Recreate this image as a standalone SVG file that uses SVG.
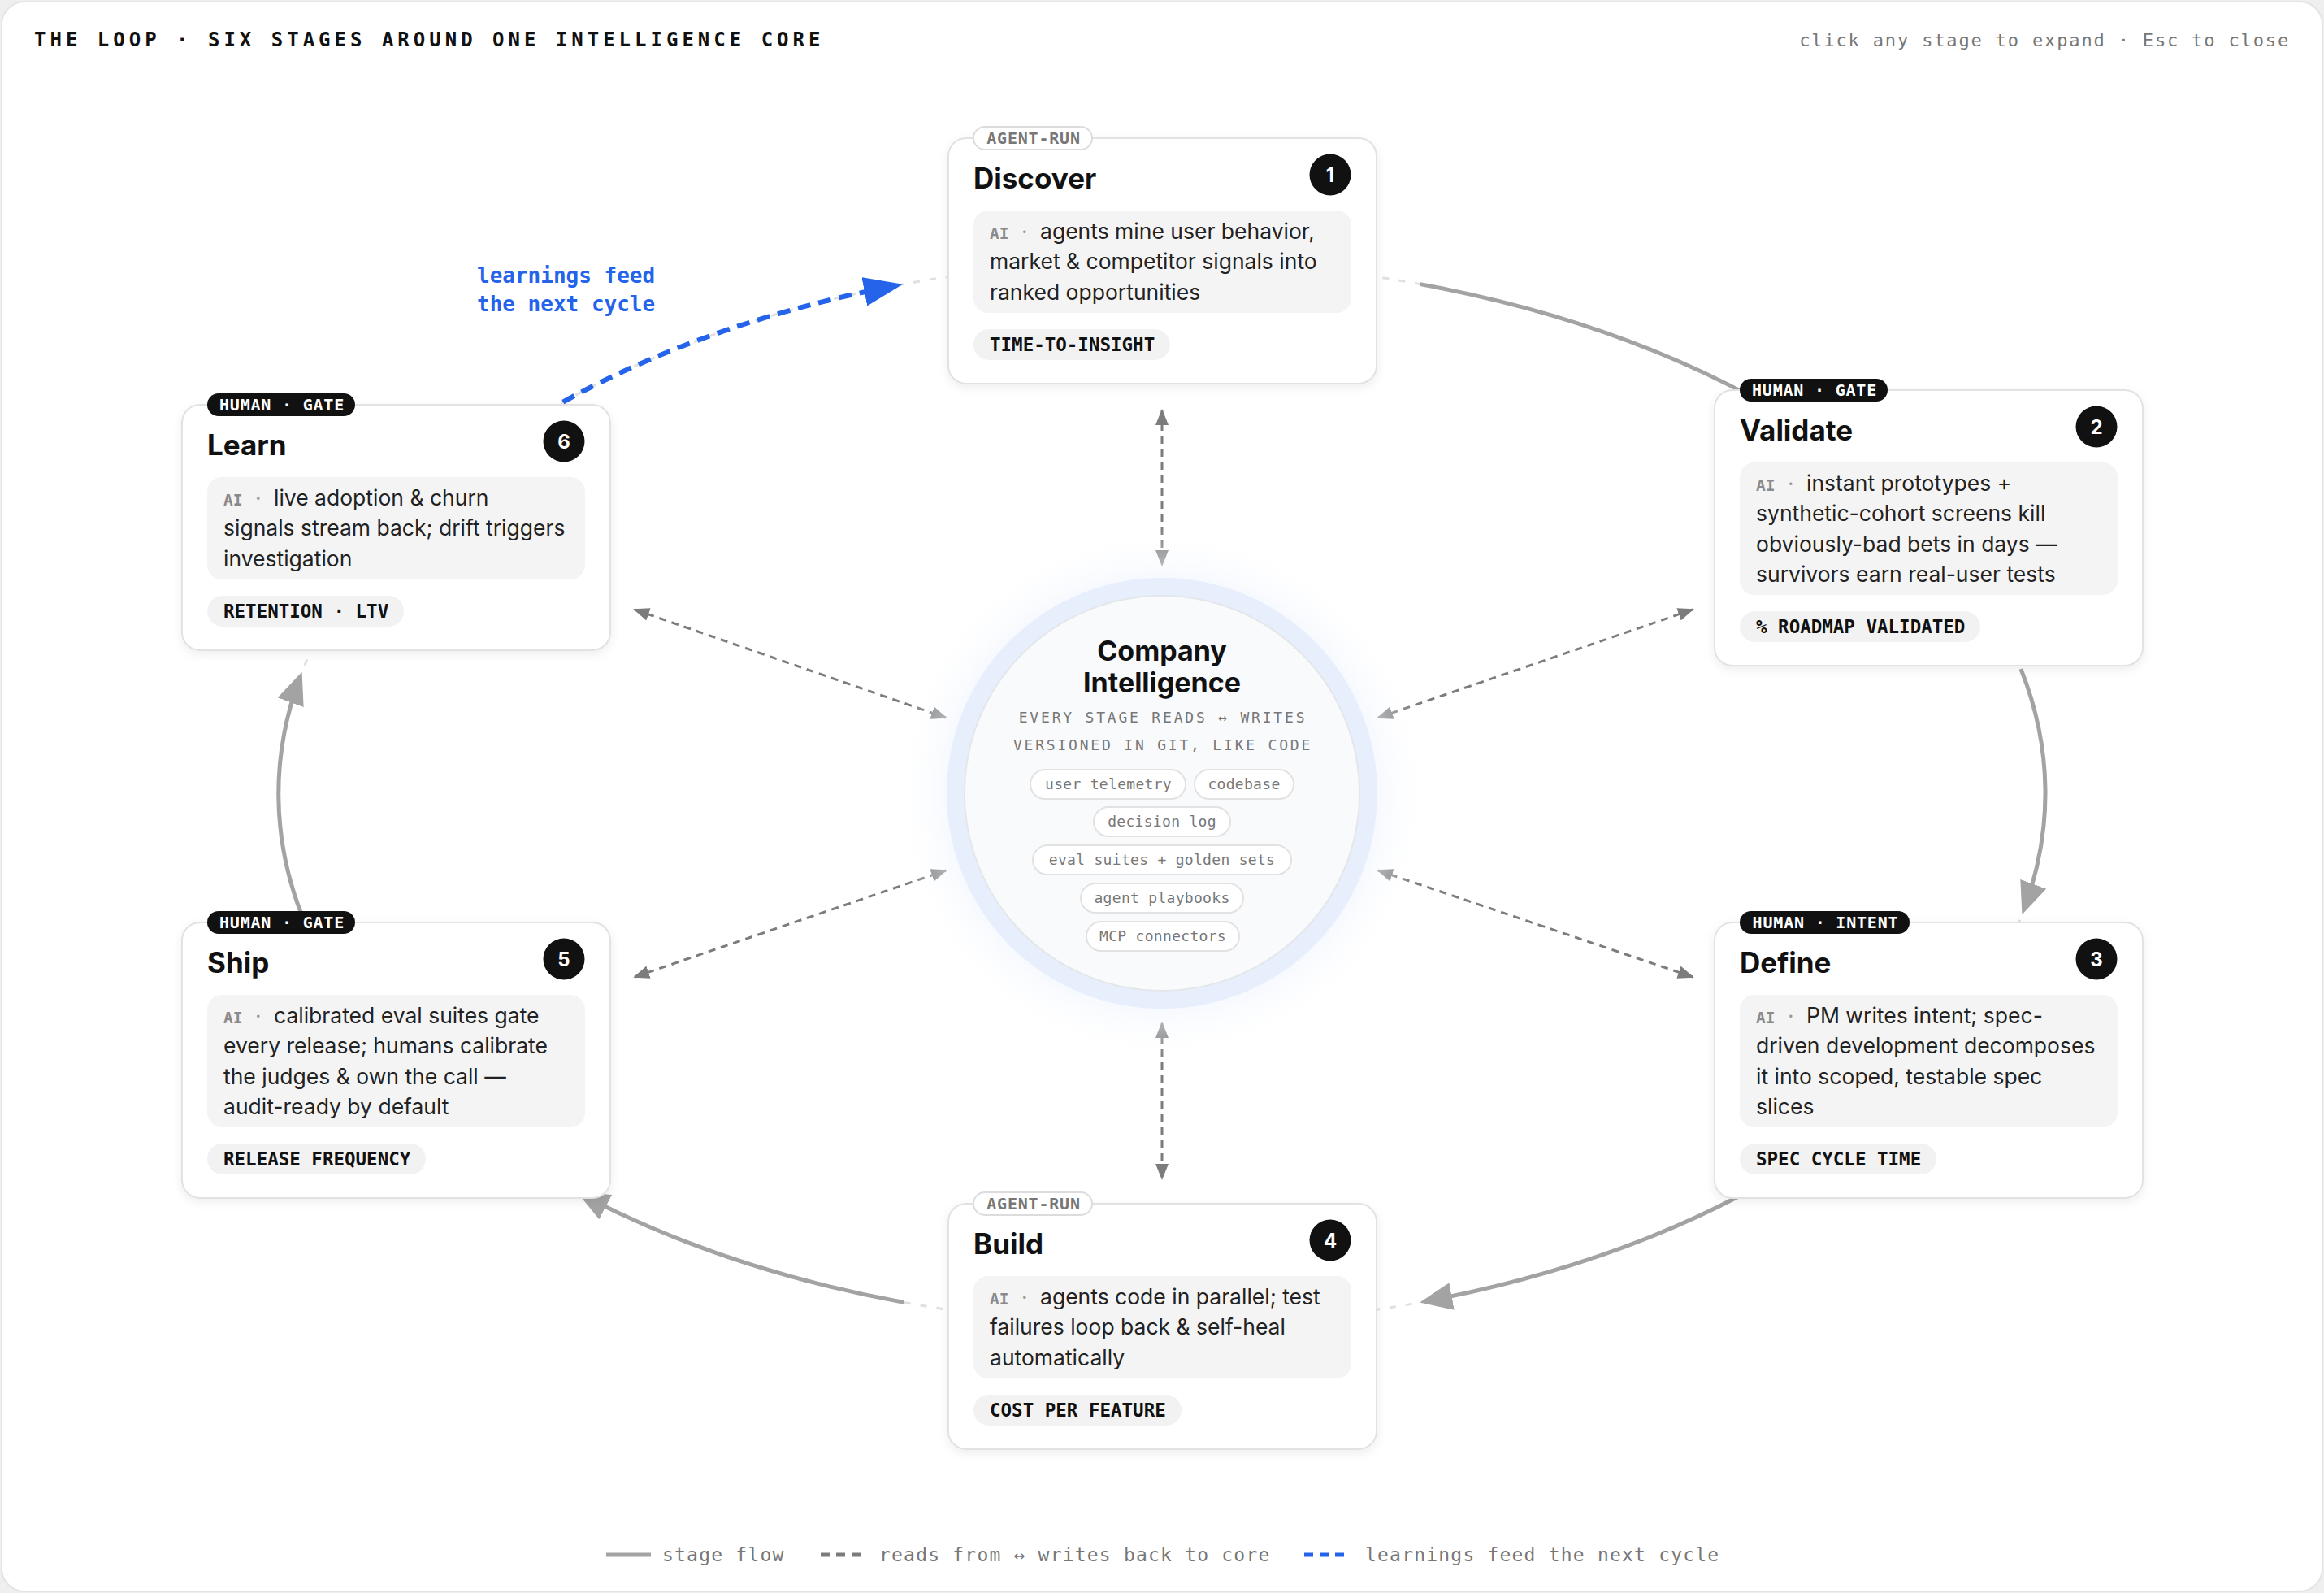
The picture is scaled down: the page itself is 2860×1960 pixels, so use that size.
<svg xmlns="http://www.w3.org/2000/svg" width="2860" height="1960" viewBox="0 0 2860 1960">
<defs>
<style>
.mono{font-family:"DejaVu Sans Mono","Liberation Mono",monospace}
.sans{font-family:Inter,"Liberation Sans",sans-serif}
.card{fill:#fff;stroke:#e2e2e2;stroke-width:2}
.box{fill:#f4f4f4}
.ttl{font-family:Inter,"Liberation Sans",sans-serif;font-weight:700;font-size:35px;fill:#111}
.body{font-family:Inter,"Liberation Sans",sans-serif;font-size:26.5px;fill:#222}
.ai{font-family:"DejaVu Sans Mono","Liberation Mono",monospace;font-weight:700;font-size:19.5px;fill:#8a8a8a}
.dot{font-family:Inter,"Liberation Sans",sans-serif;font-size:26px;fill:#999}
.mpill{fill:#f2f2f2}
.met{font-family:"DejaVu Sans Mono","Liberation Mono",monospace;font-weight:700;font-size:22.5px;fill:#111}
.tagd{fill:#111}
.tagdt{font-family:"DejaVu Sans Mono","Liberation Mono",monospace;font-weight:700;font-size:20px;letter-spacing:0.8px;fill:#fff}
.tagl{fill:#fff;stroke:#dcdcdc;stroke-width:2}
.taglt{font-family:"DejaVu Sans Mono","Liberation Mono",monospace;font-weight:700;font-size:20px;letter-spacing:0.8px;fill:#777}
.badge{fill:#111}
.badget{font-family:Inter,"Liberation Sans",sans-serif;font-weight:700;font-size:24px;fill:#fff}
.flow{fill:none;stroke:#a3a3a3;stroke-width:5}
.core{fill:none;stroke:#7c7c7c;stroke-width:3;stroke-dasharray:9 7}
.learn{fill:none;stroke:#2563eb;stroke-width:6;stroke-dasharray:16 10}
.track{fill:none;stroke:#e0e0e0;stroke-width:3;stroke-dasharray:8 12}
.chip{fill:#fff;stroke:#e2e2e2;stroke-width:2}
.chipt{font-family:"DejaVu Sans Mono","Liberation Mono",monospace;font-size:18px;letter-spacing:0.3px;fill:#777}
.leg{font-family:"DejaVu Sans Mono","Liberation Mono",monospace;font-size:23px;letter-spacing:1.2px;fill:#777}
</style>
<filter id="sh" x="-10%" y="-10%" width="120%" height="130%">
<feDropShadow dx="0" dy="4" stdDeviation="6" flood-color="#000" flood-opacity="0.07"/>
</filter>
<radialGradient id="glow" cx="0.5" cy="0.5" r="0.5">
<stop offset="0.7" stop-color="#e9f0fc" stop-opacity="0.9"/>
<stop offset="1" stop-color="#ffffff" stop-opacity="0"/>
</radialGradient>
<marker id="af" markerUnits="userSpaceOnUse" markerWidth="40" markerHeight="34" viewBox="0 0 40 34" refX="32" refY="17" orient="auto">
<path d="M0,0 L40,17 L0,34 z" fill="#a3a3a3"/>
</marker>
<marker id="ab" markerUnits="userSpaceOnUse" markerWidth="48" markerHeight="36" viewBox="0 0 48 36" refX="40" refY="18" orient="auto">
<path d="M0,0 L48,18 L0,36 z" fill="#2563eb"/>
</marker>
<marker id="ac" markerUnits="userSpaceOnUse" markerWidth="20" markerHeight="16" viewBox="0 0 20 16" refX="18" refY="8" orient="auto-start-reverse">
<path d="M0,0 L20,8 L0,16 z" fill="#7c7c7c"/>
</marker>
</defs>

<rect x="0" y="0" width="2860" height="1960" fill="#efefef"/>
<rect x="2" y="2" width="2856" height="1956" rx="28" fill="#fff" stroke="#e4e4e4" stroke-width="2"/>

<text class="mono" x="42" y="57" font-size="24" font-weight="700" letter-spacing="5" fill="#111">THE LOOP · SIX STAGES AROUND ONE INTELLIGENCE CORE</text>
<text class="mono" x="2818" y="57" font-size="22" letter-spacing="1.85" fill="#777" text-anchor="end">click any stage to expand · Esc to close</text>

<g id="connectors">
<ellipse class="track" cx="1430" cy="976" rx="1087" ry="655"/>
<path class="flow" d="M1747.8,349.6 A1087,655 0 0 1 2157.4,489.2"/>
<path class="flow" marker-end="url(#af)" d="M2487,823.1 A1087,655 0 0 1 2491.2,1117.8"/>
<path class="flow" marker-end="url(#af)" d="M2143.1,1470.3 A1087,655 0 0 1 1755.1,1601"/>
<path class="flow" marker-end="url(#af)" d="M1112.2,1602.4 A1087,655 0 0 1 716.9,1470.3"/>
<path class="flow" marker-end="url(#af)" d="M371.4,1126 A1087,655 0 0 1 368.8,834.2"/>
<path class="learn" marker-end="url(#ab)" d="M648.1,521 A1087,655 0 0 1 1103.1,351.3"/>
<line class="core" x1="1430" y1="505" x2="1430" y2="695" marker-start="url(#ac)" marker-end="url(#ac)"/>
<line class="core" x1="1430" y1="1259" x2="1430" y2="1450" marker-start="url(#ac)" marker-end="url(#ac)"/>
<line class="core" x1="781" y1="750" x2="1164" y2="883" marker-start="url(#ac)" marker-end="url(#ac)"/>
<line class="core" x1="2083" y1="750" x2="1696" y2="883" marker-start="url(#ac)" marker-end="url(#ac)"/>
<line class="core" x1="781" y1="1202" x2="1164" y2="1071" marker-start="url(#ac)" marker-end="url(#ac)"/>
<line class="core" x1="2083" y1="1202" x2="1696" y2="1071" marker-start="url(#ac)" marker-end="url(#ac)"/>
<text class="mono" x="587" y="348" font-size="26" font-weight="700" fill="#2563eb">learnings feed</text>
<text class="mono" x="587" y="383" font-size="26" font-weight="700" fill="#2563eb">the next cycle</text>
</g>

<g id="core">
<circle cx="1430" cy="976" r="330" fill="url(#glow)"/>
<circle cx="1430" cy="976" r="254" fill="none" stroke="#e8effc" stroke-width="22"/>
<circle cx="1430" cy="976" r="243" fill="#f9fafc" stroke="#e4e6ea" stroke-width="2"/>
<text class="sans" x="1430" y="813" font-size="34" font-weight="700" fill="#111" text-anchor="middle">Company</text>
<text class="sans" x="1430" y="852" font-size="34" font-weight="700" fill="#111" text-anchor="middle">Intelligence</text>
<text class="mono" x="1431" y="889" font-size="18" letter-spacing="2.8" fill="#777" text-anchor="middle">EVERY STAGE READS ↔ WRITES</text>
<text class="mono" x="1431" y="923" font-size="18" letter-spacing="2.8" fill="#777" text-anchor="middle">VERSIONED IN GIT, LIKE CODE</text>
<rect class="chip" x="1268" y="947" width="191" height="36" rx="18"/>
<text class="chipt" x="1364" y="971" text-anchor="middle">user telemetry</text>
<rect class="chip" x="1470" y="947" width="122" height="36" rx="18"/>
<text class="chipt" x="1531" y="971" text-anchor="middle">codebase</text>
<rect class="chip" x="1346" y="993" width="168" height="36" rx="18"/>
<text class="chipt" x="1430" y="1017" text-anchor="middle">decision log</text>
<rect class="chip" x="1271" y="1040" width="318" height="36" rx="18"/>
<text class="chipt" x="1430" y="1064" text-anchor="middle">eval suites + golden sets</text>
<rect class="chip" x="1330" y="1087" width="200" height="36" rx="18"/>
<text class="chipt" x="1430" y="1111" text-anchor="middle">agent playbooks</text>
<rect class="chip" x="1337" y="1134" width="188" height="36" rx="18"/>
<text class="chipt" x="1431" y="1158" text-anchor="middle">MCP connectors</text>
</g>

<g id="discover">
<rect class="card" x="1167" y="170" width="527" height="302" rx="22" filter="url(#sh)"/>
<rect class="tagl" x="1198" y="156" width="146" height="28" rx="14"/>
<text class="taglt" x="1272" y="177" text-anchor="middle">AGENT-RUN</text>
<text class="ttl" x="1198" y="232">Discover</text>
<circle class="badge" cx="1637" cy="215" r="25.5"/>
<text class="badget" x="1637" y="223.5" text-anchor="middle">1</text>
<rect class="box" x="1198" y="259" width="465" height="126" rx="18"/>
<text class="ai" x="1218" y="294">AI</text><text class="dot" x="1257" y="294">·</text>
<text class="body" x="1280" y="294">agents mine user behavior,</text>
<text class="body" x="1218" y="331.4">market &amp; competitor signals into</text>
<text class="body" x="1218" y="368.8">ranked opportunities</text>
<rect class="mpill" x="1198" y="405" width="242" height="38" rx="19"/>
<text class="met" x="1218" y="432">TIME-TO-INSIGHT</text>
</g>

<g id="validate">
<rect class="card" x="2110" y="480" width="527" height="339" rx="22" filter="url(#sh)"/>
<rect class="tagd" x="2141" y="466" width="182" height="28" rx="14"/>
<text class="tagdt" x="2233" y="487" text-anchor="middle">HUMAN · GATE</text>
<text class="ttl" x="2141" y="542">Validate</text>
<circle class="badge" cx="2580" cy="525" r="25.5"/>
<text class="badget" x="2580" y="533.5" text-anchor="middle">2</text>
<rect class="box" x="2141" y="569" width="465" height="163" rx="18"/>
<text class="ai" x="2161" y="604">AI</text><text class="dot" x="2200" y="604">·</text>
<text class="body" x="2223" y="604">instant prototypes +</text>
<text class="body" x="2161" y="641.4">synthetic-cohort screens kill</text>
<text class="body" x="2161" y="678.8">obviously-bad bets in days —</text>
<text class="body" x="2161" y="716.2">survivors earn real-user tests</text>
<rect class="mpill" x="2141" y="752" width="296" height="38" rx="19"/>
<text class="met" x="2161" y="779">% ROADMAP VALIDATED</text>
</g>

<g id="define">
<rect class="card" x="2110" y="1135" width="527" height="339" rx="22" filter="url(#sh)"/>
<rect class="tagd" x="2141" y="1121" width="209" height="28" rx="14"/>
<text class="tagdt" x="2246.5" y="1142" text-anchor="middle">HUMAN · INTENT</text>
<text class="ttl" x="2141" y="1197">Define</text>
<circle class="badge" cx="2580" cy="1180" r="25.5"/>
<text class="badget" x="2580" y="1188.5" text-anchor="middle">3</text>
<rect class="box" x="2141" y="1224" width="465" height="163" rx="18"/>
<text class="ai" x="2161" y="1259">AI</text><text class="dot" x="2200" y="1259">·</text>
<text class="body" x="2223" y="1259">PM writes intent; spec-</text>
<text class="body" x="2161" y="1296.4">driven development decomposes</text>
<text class="body" x="2161" y="1333.8">it into scoped, testable spec</text>
<text class="body" x="2161" y="1371.2">slices</text>
<rect class="mpill" x="2141" y="1407" width="242" height="38" rx="19"/>
<text class="met" x="2161" y="1434">SPEC CYCLE TIME</text>
</g>

<g id="build">
<rect class="card" x="1167" y="1481" width="527" height="302" rx="22" filter="url(#sh)"/>
<rect class="tagl" x="1198" y="1467" width="146" height="28" rx="14"/>
<text class="taglt" x="1272" y="1488" text-anchor="middle">AGENT-RUN</text>
<text class="ttl" x="1198" y="1543">Build</text>
<circle class="badge" cx="1637" cy="1526" r="25.5"/>
<text class="badget" x="1637" y="1534.5" text-anchor="middle">4</text>
<rect class="box" x="1198" y="1570" width="465" height="126" rx="18"/>
<text class="ai" x="1218" y="1605">AI</text><text class="dot" x="1257" y="1605">·</text>
<text class="body" x="1280" y="1605">agents code in parallel; test</text>
<text class="body" x="1218" y="1642.4">failures loop back &amp; self-heal</text>
<text class="body" x="1218" y="1679.8">automatically</text>
<rect class="mpill" x="1198" y="1716" width="256" height="38" rx="19"/>
<text class="met" x="1218" y="1743">COST PER FEATURE</text>
</g>

<g id="ship">
<rect class="card" x="224" y="1135" width="527" height="339" rx="22" filter="url(#sh)"/>
<rect class="tagd" x="255" y="1121" width="182" height="28" rx="14"/>
<text class="tagdt" x="347" y="1142" text-anchor="middle">HUMAN · GATE</text>
<text class="ttl" x="255" y="1197">Ship</text>
<circle class="badge" cx="694" cy="1180" r="25.5"/>
<text class="badget" x="694" y="1188.5" text-anchor="middle">5</text>
<rect class="box" x="255" y="1224" width="465" height="163" rx="18"/>
<text class="ai" x="275" y="1259">AI</text><text class="dot" x="314" y="1259">·</text>
<text class="body" x="337" y="1259">calibrated eval suites gate</text>
<text class="body" x="275" y="1296.4">every release; humans calibrate</text>
<text class="body" x="275" y="1333.8">the judges &amp; own the call —</text>
<text class="body" x="275" y="1371.2">audit-ready by default</text>
<rect class="mpill" x="255" y="1407" width="269" height="38" rx="19"/>
<text class="met" x="275" y="1434">RELEASE FREQUENCY</text>
</g>

<g id="learn">
<rect class="card" x="224" y="498" width="527" height="302" rx="22" filter="url(#sh)"/>
<rect class="tagd" x="255" y="484" width="182" height="28" rx="14"/>
<text class="tagdt" x="347" y="505" text-anchor="middle">HUMAN · GATE</text>
<text class="ttl" x="255" y="560">Learn</text>
<circle class="badge" cx="694" cy="543" r="25.5"/>
<text class="badget" x="694" y="551.5" text-anchor="middle">6</text>
<rect class="box" x="255" y="587" width="465" height="126" rx="18"/>
<text class="ai" x="275" y="622">AI</text><text class="dot" x="314" y="622">·</text>
<text class="body" x="337" y="622">live adoption &amp; churn</text>
<text class="body" x="275" y="659.4">signals stream back; drift triggers</text>
<text class="body" x="275" y="696.8">investigation</text>
<rect class="mpill" x="255" y="733" width="242" height="38" rx="19"/>
<text class="met" x="275" y="760">RETENTION · LTV</text>
</g>

<g id="legend">
<line x1="746" y1="1913" x2="801" y2="1913" stroke="#a3a3a3" stroke-width="5"/>
<text class="leg" x="815" y="1921">stage flow</text>
<line x1="1010" y1="1913" x2="1067" y2="1913" stroke="#7c7c7c" stroke-width="5" stroke-dasharray="11 8"/>
<text class="leg" x="1082" y="1921">reads from ↔ writes back to core</text>
<line x1="1605" y1="1913" x2="1663" y2="1913" stroke="#2563eb" stroke-width="5" stroke-dasharray="11 8"/>
<text class="leg" x="1680" y="1921">learnings feed the next cycle</text>
</g>
</svg>
